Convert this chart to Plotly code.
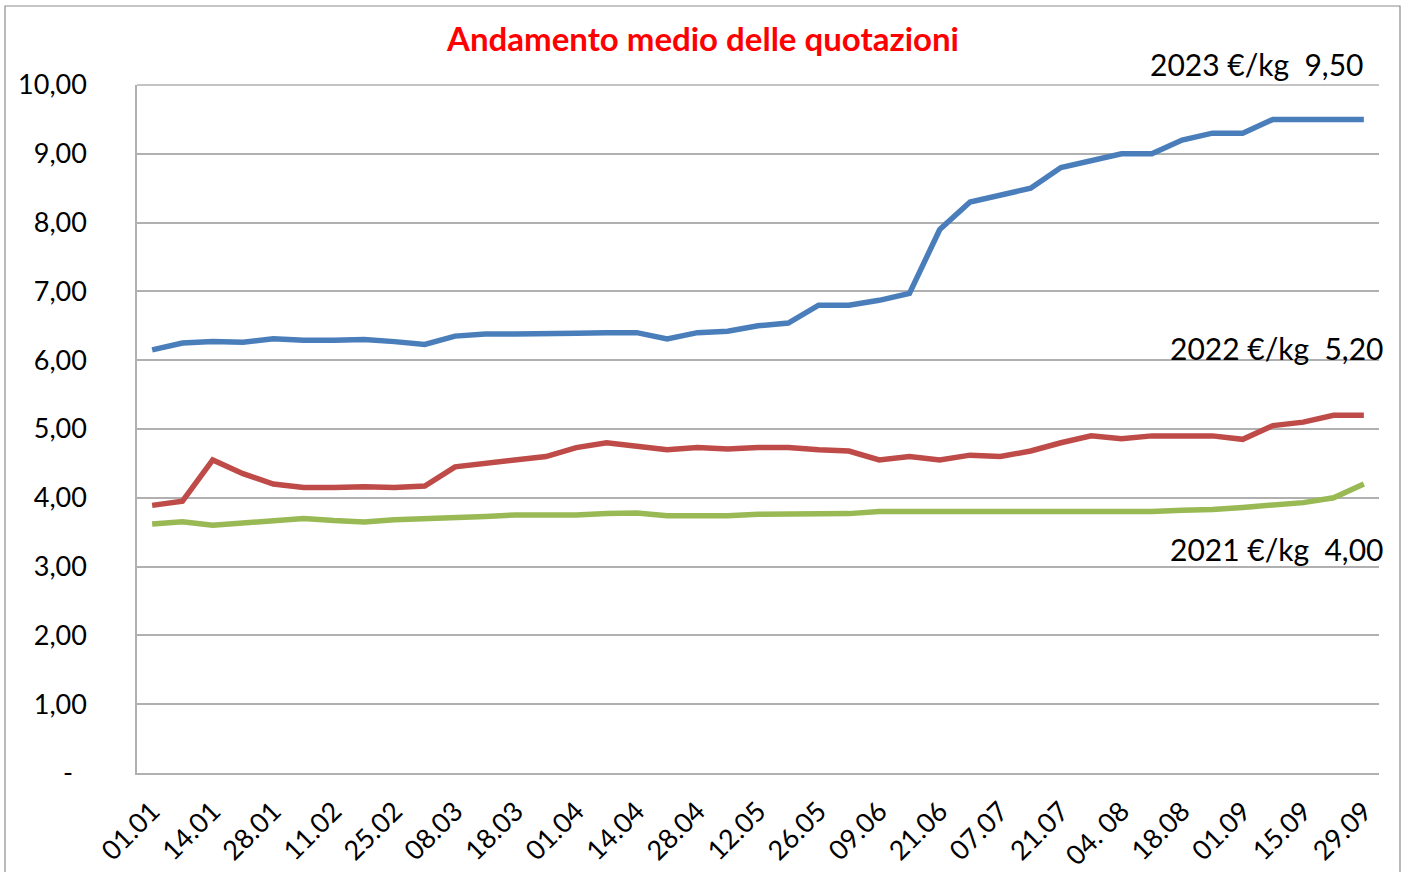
import plotly.graph_objects as go

tick_labels = ["01.01", "14.01", "28.01", "11.02", "25.02", "08.03", "18.03", "01.04",
               "14.04", "28.04", "12.05", "26.05", "09.06", "21.06", "07.07", "21.07",
               "04. 08", "18.08", "01.09", "15.09", "29.09"]

y2023 = [6.15, 6.25, 6.27, 6.26, 6.31, 6.29, 6.29, 6.30, 6.27, 6.23,
         6.35, 6.38, 6.38, 6.38, 6.39, 6.40, 6.40, 6.31, 6.40, 6.42,
         6.50, 6.54, 6.80, 6.80, 6.87, 6.97, 7.90, 8.30, 8.40, 8.50,
         8.80, 8.90, 9.00, 9.00, 9.20, 9.30, 9.30, 9.50, 9.50, 9.50, 9.50]
y2022 = [3.89, 3.95, 4.55, 4.35, 4.20, 4.15, 4.15, 4.16, 4.15, 4.17,
         4.45, 4.50, 4.55, 4.60, 4.73, 4.80, 4.75, 4.70, 4.73, 4.71,
         4.73, 4.73, 4.70, 4.68, 4.55, 4.60, 4.55, 4.62, 4.60, 4.68,
         4.80, 4.90, 4.86, 4.90, 4.90, 4.90, 4.85, 5.05, 5.10, 5.20, 5.20]
y2021 = [3.62, 3.65, 3.60, 3.64, 3.68, 3.70, 3.67, 3.65, 3.68, 3.69,
         3.70, 3.73, 3.75, 3.75, 3.75, 3.77, 3.78, 3.74, 3.74, 3.74,
         3.76, 3.76, 3.76, 3.77, 3.80, 3.80, 3.80, 3.80, 3.80, 3.80,
         3.80, 3.80, 3.80, 3.80, 3.82, 3.83, 3.86, 3.90, 3.93, 4.00, 4.20]

y_tick_vals = [0, 1, 2, 3, 4, 5, 6, 7, 8, 9, 10]
y_tick_text = ["-\u00a0\u00a0", "1,00", "2,00", "3,00", "4,00", "5,00", "6,00", "7,00", "8,00", "9,00", "10,00"]

series = [("2023", y2023, "#4A7EBB"), ("2022", y2022, "#BE4B48"), ("2021", y2021, "#98B954")]
labels = ["2023 €/kg\u00a0\u00a09,50", "2022 €/kg\u00a0\u00a05,20", "2021 €/kg\u00a0\u00a04,00"]

n = len(y2023)
xs = list(range(n))
FONT = "Lato, Carlito, Calibri, sans-serif"

W, H = 1405, 872
L, R, T, B = 137, 1379, 85, 773
PW, PH = R - L, B - T


def px_x(p):
    return (p - L) / PW


def px_y(p):
    return (B - p) / PH


fig = go.Figure()
for name, ys, col in series:
    fig.add_trace(go.Scatter(x=xs, y=ys, mode="lines", name=name,
                             line=dict(color=col, width=5.5), showlegend=False))

grid = "#B0B0B0"
fig.update_layout(
    width=W, height=H,
    margin=dict(l=L, r=W - R, t=T, b=H - B, autoexpand=False),
    paper_bgcolor="white", plot_bgcolor="white",
    font=dict(family=FONT, color="#000000"),
    title=dict(text="<b>Andamento medio delle quotazioni</b>",
               font=dict(family=FONT, size=33, color="#FF0000"),
               x=703 / W, xanchor="center", xref="container",
               y=1 - 39 / H, yanchor="middle", yref="container"),
    xaxis=dict(range=[-0.5, n - 0.5], tickmode="array",
               tickvals=xs[::2], ticktext=tick_labels, tickangle=-45,
               tickfont=dict(size=27, family=FONT), showgrid=False,
               showline=True, linecolor=grid, linewidth=1.5, zeroline=False,
               ticks="", ticklen=0, ticklabelstandoff=10, automargin=False),
    yaxis=dict(range=[0, 10], tickmode="array", tickvals=y_tick_vals,
               ticktext=y_tick_text, tickfont=dict(size=27, family=FONT),
               showgrid=True, gridcolor=grid, gridwidth=1.5,
               showline=True, linecolor=grid, linewidth=1.5, zeroline=False,
               ticks="", ticklen=0, ticklabelstandoff=43, automargin=False),
)

# outer chart border
fig.add_shape(type="rect", xref="paper", yref="paper",
              x0=px_x(5), x1=px_x(1400), y0=px_y(890), y1=px_y(6),
              line=dict(color="#8C8C8C", width=1.2), layer="below")
# top edge of plot area
fig.add_shape(type="line", xref="paper", yref="paper", x0=0, x1=1, y0=1, y1=1,
              line=dict(color=grid, width=1.5))

ann_pos = [(px_x(1365), px_y(64)), (px_x(1385), px_y(348)), (px_x(1385), px_y(549))]
for txt, (ax, ay) in zip(labels, ann_pos):
    fig.add_annotation(text=txt, xref="paper", yref="paper", x=ax, y=ay,
                       xanchor="right", yanchor="middle", showarrow=False,
                       font=dict(family=FONT, size=30, color="#000000"))

fig.write_html("out.html", config={"displayModeBar": False},
               post_script="document.body.style.margin='0';")
